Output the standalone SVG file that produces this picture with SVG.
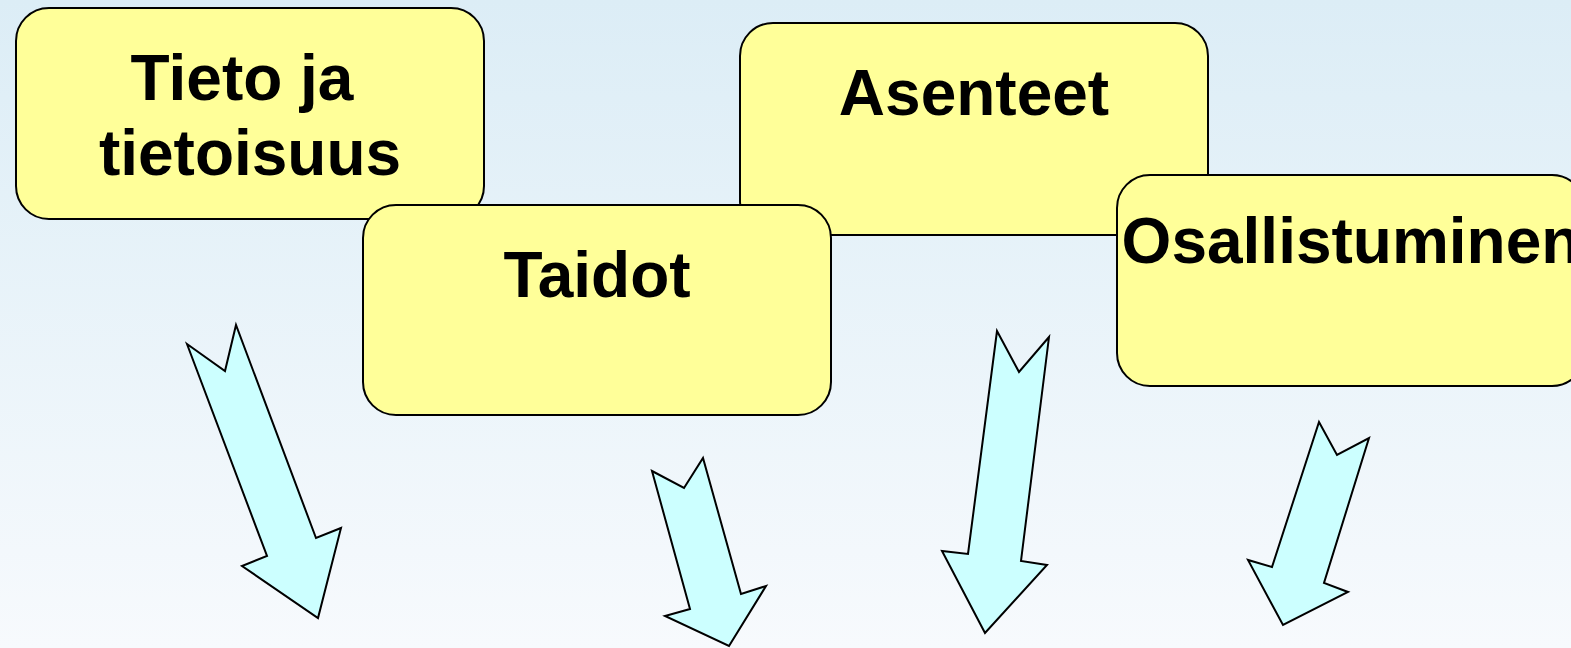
<svg xmlns="http://www.w3.org/2000/svg" width="1571" height="648" viewBox="0 0 1571 648">
<defs>
<linearGradient id="bg" x1="0" y1="0" x2="0" y2="1">
<stop offset="0" stop-color="#DCEDF6"/>
<stop offset="1" stop-color="#F7FAFD"/>
</linearGradient>
<style>
.box{fill:#FFFF99;stroke:#000;stroke-width:2}
.lbl{font-family:"Liberation Sans",Arial,sans-serif;font-weight:bold;font-size:64px;fill:#000;text-anchor:middle}
.arr{fill:#CCFFFF;stroke:#000;stroke-width:2;stroke-linejoin:miter}
</style>
</defs>
<rect width="1571" height="648" fill="url(#bg)"/>
<g id="node-tieto">
<rect class="box" x="16" y="8" width="468" height="211" rx="33"/>
<text class="lbl" x="242" y="100">Tieto ja</text>
<text class="lbl" x="250" y="175">tietoisuus</text>
</g>
<g id="node-asenteet">
<rect class="box" x="740" y="23" width="468" height="212" rx="33"/>
<text class="lbl" x="974" y="115">Asenteet</text>
</g>
<g id="node-taidot">
<rect class="box" x="363" y="205" width="468" height="210" rx="33"/>
<text class="lbl" x="597" y="297">Taidot</text>
</g>
<g id="node-osallistuminen">
<rect class="box" x="1117" y="175" width="468" height="211" rx="33"/>
<text class="lbl" x="1351" y="263">Osallistuminen</text>
</g>
<g id="connectors">
<polygon class="arr" points="187,344 225,371 236,325 316,538 341,528 318,618 242,566 267,556"/>
<polygon class="arr" points="652,471 684,488 703,458 741,594 766,586 729,646 665,616 690,609"/>
<polygon class="arr" points="997,331 1019,372 1049,337 1021,561 1047,565 985,633 942,551 968,554"/>
<polygon class="arr" points="1319,422 1337,455 1369,438 1324,583 1348,592 1283,625 1248,560 1272,567"/>
</g>
</svg>
